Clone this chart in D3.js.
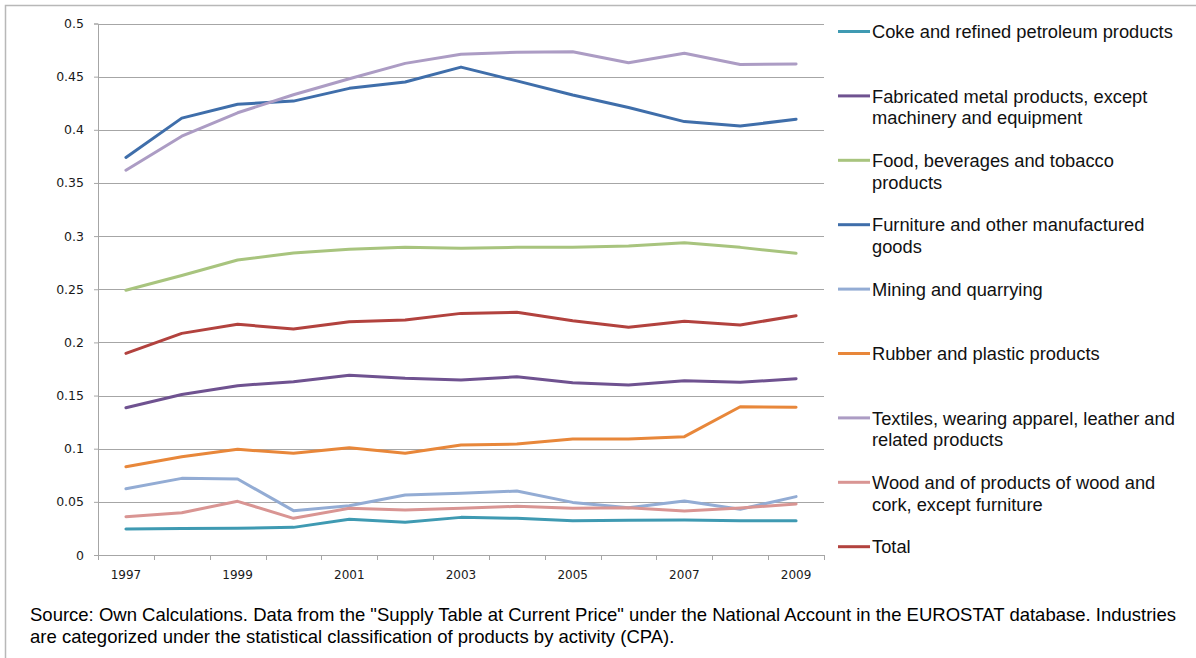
<!DOCTYPE html>
<html>
<head>
<meta charset="utf-8">
<script src="https://cdn.jsdelivr.net/npm/d3@7"></script>
<style>
  html, body { margin: 0; padding: 0; background: #fff; }
  svg { display: block; }
</style>
</head>
<body>
<svg id="chart" width="1196" height="658"></svg>
<script>
// Years on the category axis
const years = [1997, 1998, 1999, 2000, 2001, 2002, 2003, 2004, 2005, 2006, 2007, 2008, 2009];

// Y axis tick values
const yTicks = [0, 0.05, 0.1, 0.15, 0.2, 0.25, 0.3, 0.35, 0.4, 0.45, 0.5];

// Series names (legend order)
const seriesNames = [
  "Coke and refined petroleum products",
  "Fabricated metal products, except machinery and equipment",
  "Food, beverages and tobacco products",
  "Furniture and other manufactured goods",
  "Mining and quarrying",
  "Rubber and plastic products",
  "Textiles, wearing apparel, leather and related products",
  "Wood and of products of wood and cork, except furniture",
  "Total"
];

// Series values, 1997-2009
const coke       = [0.0245, 0.025, 0.0251, 0.026, 0.0336, 0.0307, 0.0354, 0.0345, 0.0323, 0.0326, 0.0329, 0.0323, 0.0323];
const fabricated = [0.1386, 0.151, 0.1593, 0.163, 0.169, 0.1662, 0.1646, 0.1677, 0.1621, 0.160, 0.164, 0.1624, 0.1659];
const food       = [0.249, 0.263, 0.2775, 0.284, 0.2876, 0.2894, 0.2885, 0.2894, 0.2894, 0.2907, 0.2938, 0.2894, 0.2838];
const furniture  = [0.374, 0.411, 0.424, 0.427, 0.439, 0.445, 0.459, 0.446, 0.4327, 0.421, 0.4077, 0.4035, 0.410];
const mining     = [0.0624, 0.0721, 0.0715, 0.0417, 0.0464, 0.0564, 0.058, 0.0602, 0.0495, 0.0445, 0.0508, 0.043, 0.0549];
const rubber     = [0.0831, 0.0925, 0.0994, 0.0957, 0.101, 0.0957, 0.1035, 0.1044, 0.1091, 0.1091, 0.1113, 0.1395, 0.1389];
const textiles   = [0.362, 0.394, 0.416, 0.433, 0.448, 0.4625, 0.471, 0.473, 0.4735, 0.463, 0.472, 0.4615, 0.462];
const wood       = [0.036, 0.0398, 0.0505, 0.0345, 0.0439, 0.0423, 0.0439, 0.0458, 0.0439, 0.0445, 0.0414, 0.0442, 0.048];
const total      = [0.1897, 0.2085, 0.217, 0.2126, 0.2195, 0.221, 0.2273, 0.2283, 0.2204, 0.2142, 0.2198, 0.2164, 0.2251];

const seriesValues = [coke, fabricated, food, furniture, mining, rubber, textiles, wood, total];

const seriesColors = ["#3F9AB2", "#6F5290", "#A8C47E", "#3F6EAA", "#93ACD4", "#E8873A", "#AC9CC4", "#D99593", "#B2423E"];

const sourceLines = [
  "Source: Own Calculations. Data from the \"Supply Table at Current Price\" under the National Account in the EUROSTAT database. Industries",
  "are categorized under the statistical classification of products by activity (CPA)."
];

const svg = d3.select("#chart");

// Outer frame
svg.append("rect")
  .attr("x", 5.5).attr("y", 5.5)
  .attr("width", 1300).attr("height", 800)
  .attr("fill", "none")
  .attr("stroke", "#B8B8B8")
  .attr("stroke-width", 1.5);

const plot = { left: 98, right: 824, top: 23.5, bottom: 555 };

const xBand = d3.scaleBand().domain(years).range([plot.left, plot.right]).padding(0);
const xPos = d => xBand(d) + xBand.bandwidth() / 2;
const y = d3.scaleLinear().domain([0, 0.5]).range([plot.bottom, plot.top]);

const axisFont = "'DejaVu Sans', sans-serif";
const gridColor = "#A6A6A6";

// Horizontal gridlines
svg.append("g")
  .selectAll("line")
  .data(yTicks.filter(t => t > 0))
  .join("line")
  .attr("x1", plot.left).attr("x2", plot.right)
  .attr("y1", d => Math.round(y(d)) + 0.5).attr("y2", d => Math.round(y(d)) + 0.5)
  .attr("stroke", gridColor).attr("stroke-width", 1);

// Y axis
const yAxis = d3.axisLeft(y)
  .tickValues(yTicks)
  .tickSize(4)
  .tickPadding(10)
  .tickFormat(d => String(+d.toFixed(2)));
const gy = svg.append("g").attr("transform", `translate(${plot.left},0)`).call(yAxis);
gy.select(".domain").attr("stroke", gridColor);
gy.selectAll(".tick line").attr("stroke", gridColor);
gy.selectAll(".tick text")
  .attr("font-family", axisFont).attr("font-size", 12.5).attr("fill", "#1a1a1a");

// X axis: ticks on category boundaries, labels on alternate years
const boundaries = years.map(d => xBand(d)).concat([plot.right]);
const gx = svg.append("g");
gx.append("line")
  .attr("x1", plot.left).attr("x2", plot.right)
  .attr("y1", plot.bottom + 0.5).attr("y2", plot.bottom + 0.5)
  .attr("stroke", gridColor);
gx.selectAll("line.tk")
  .data(boundaries)
  .join("line")
  .attr("class", "tk")
  .attr("x1", d => Math.round(d) + 0.5).attr("x2", d => Math.round(d) + 0.5)
  .attr("y1", plot.bottom).attr("y2", plot.bottom + 5)
  .attr("stroke", gridColor);
gx.selectAll("text")
  .data(years.filter((d, i) => i % 2 === 0))
  .join("text")
  .attr("x", d => xPos(d))
  .attr("y", plot.bottom + 24)
  .attr("text-anchor", "middle")
  .attr("font-family", axisFont).attr("font-size", 12)
  .attr("fill", "#1a1a1a")
  .text(d => d);

// Series lines
const line = d3.line().x((d, i) => xPos(years[i])).y(d => y(d));
svg.append("g")
  .selectAll("path")
  .data(seriesValues)
  .join("path")
  .attr("d", d => line(d))
  .attr("fill", "none")
  .attr("stroke", (d, i) => seriesColors[i])
  .attr("stroke-width", 3)
  .attr("stroke-linejoin", "round")
  .attr("stroke-linecap", "round");

// Legend
const legendFont = "'Liberation Sans', Arial, sans-serif";
const legendSize = 18.3;
const wrapped = [
  ["Coke and refined petroleum products"],
  ["Fabricated metal products, except", "machinery and equipment"],
  ["Food, beverages and tobacco", "products"],
  ["Furniture and other manufactured", "goods"],
  ["Mining and quarrying"],
  ["Rubber and plastic products"],
  ["Textiles, wearing apparel, leather and", "related products"],
  ["Wood and of products of wood and", "cork, except furniture"],
  ["Total"]
];
const legend = svg.append("g");
const items = legend.selectAll("g")
  .data(seriesNames)
  .join("g")
  .attr("transform", (d, i) => `translate(838, ${31.5 + i * 64.4})`);
items.append("line")
  .attr("x1", 0).attr("x2", 32).attr("y1", 0).attr("y2", 0)
  .attr("stroke", (d, i) => seriesColors[i])
  .attr("stroke-width", 3);
items.each(function (d, i) {
  const t = d3.select(this).append("text")
    .attr("font-family", legendFont)
    .attr("font-size", legendSize)
    .attr("fill", "#111");
  wrapped[i].forEach((s, k) => {
    t.append("tspan").attr("x", 34).attr("y", 6.6 + k * 22).text(s);
  });
});

// Source note
svg.append("g")
  .selectAll("text")
  .data(sourceLines)
  .join("text")
  .attr("x", 30)
  .attr("y", (d, i) => 620.5 + i * 22.5)
  .attr("font-family", legendFont)
  .attr("font-size", 18.5)
  .attr("fill", "#000")
  .text(d => d);
</script>
</body>
</html>
